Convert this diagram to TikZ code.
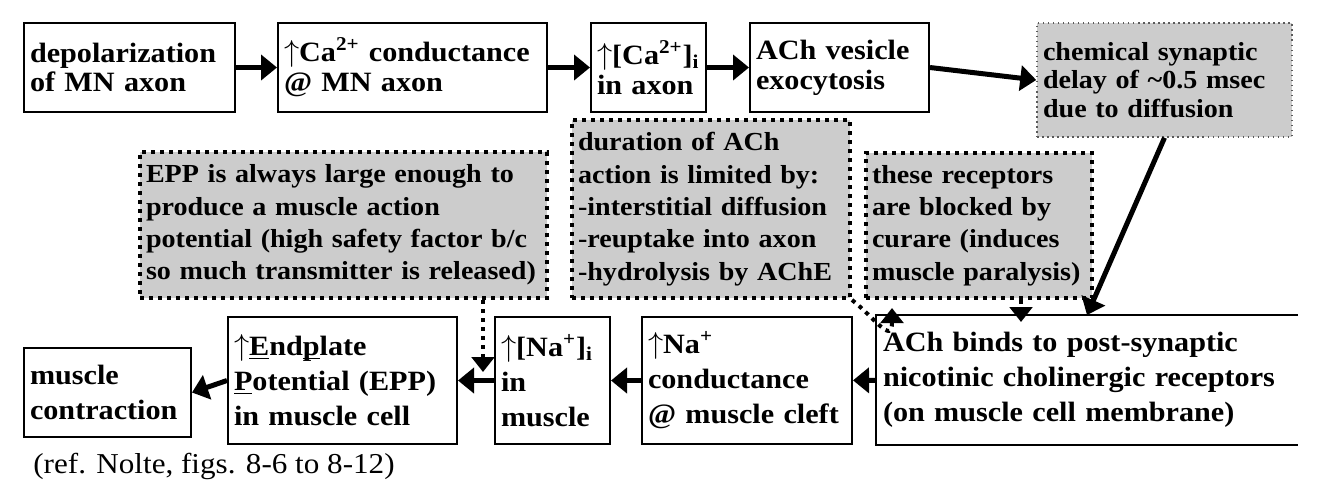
\documentclass[tikz,border=0pt]{standalone}
\usepackage{fontspec}
\setmainfont{Liberation Serif}[FakeStretch=1.08]
\usetikzlibrary{arrows.meta}
\definecolor{notegray}{RGB}{204,204,204}
\definecolor{delayline}{RGB}{90,90,90}

\begin{document}
\begin{tikzpicture}[
  box/.style={draw, line width=0.04cm, fill=white, align=left, inner xsep=0.12cm, inner ysep=0pt, font=\bfseries\fontsize{15.9}{17}\selectfont},
  lowbox/.style={box, font=\bfseries\fontsize{15.9}{19.9}\selectfont},
  note/.style={box, fill=notegray, line width=0.08cm, dash pattern=on 0.08cm off 0.1cm, font=\bfseries\fontsize{14.8}{18.4}\selectfont},
  delaynote/.style={box, fill=notegray, draw=delayline, line width=0.03cm, dotted, font=\bfseries\fontsize{14.8}{16.2}\selectfont},
  arrow/.style={-{Triangle[length=0.32cm,width=0.5cm]}, line width=0.1cm},
  notearrow/.style={-{Triangle[length=0.3cm,width=0.45cm]}, line width=0.08cm, dash pattern=on 0.08cm off 0.1cm}
]
\useasboundingbox (0,0) rectangle (26.68,-9.98);
\node[box, text width=3.98cm, minimum height=1.78cm] (depol) at (2.59,-1.35) {depolarization\\of MN axon};
\node[box, text width=5.14cm, minimum height=1.78cm] (cacond) at (8.25,-1.35) {$\uparrow$Ca\textsuperscript{2+} conductance\\@ MN axon};
\node[box, text width=2.06cm, minimum height=1.78cm] (cain) at (12.97,-1.35) {$\uparrow$[Ca\textsuperscript{2+}]\textsubscript{i}\\in axon};
\node[box, text width=3.34cm, minimum height=1.78cm] (vesicle) at (16.79,-1.35) {ACh vesicle\\exocytosis};
\node[delaynote, text width=4.86cm, minimum height=2.28cm] (delay) at (23.29,-1.60) {chemical synaptic\\delay of \textasciitilde0.5 msec\\due to diffusion};
\node[note, text width=7.90cm, minimum height=2.92cm] (eppnote) at (6.87,-4.50) {EPP is always large enough to\\produce a muscle action\\potential (high safety factor b/c\\so much transmitter is released)};
\node[note, text width=5.32cm, minimum height=3.56cm] (duration) at (14.22,-4.18) {duration of ACh\\action is limited by:\\-interstitial diffusion\\-reuptake into axon\\-hydrolysis by AChE};
\node[note, text width=4.28cm, minimum height=2.90cm] (receptors) at (19.58,-4.51) {these receptors\\are blocked by\\curare (induces\\muscle paralysis)};
\node[lowbox, text width=3.10cm, minimum height=1.78cm] (contraction) at (2.15,-7.85) {muscle\\contraction};
\node[lowbox, text width=4.34cm, minimum height=2.54cm] (endplate) at (6.85,-7.61) {$\uparrow$\underline{\smash{E}}nd\underline{\smash{p}}late\\\underline{\smash{P}}otential (EPP)\\in muscle cell};
\node[lowbox, text width=2.06cm, minimum height=2.54cm] (nain) at (11.05,-7.61) {$\uparrow$[Na\textsuperscript{+}]\textsubscript{i}\\in\\muscle};
\node[lowbox, text width=3.96cm, minimum height=2.54cm] (nacond) at (14.94,-7.61) {$\uparrow$Na\textsuperscript{+}\\conductance\\@ muscle cleft};
\node[lowbox, draw=none, text width=8.16cm, minimum height=2.56cm] (achbind) at (21.74,-7.60) {ACh binds to post-synaptic\\nicotinic cholinergic receptors\\(on muscle cell membrane)};
\draw[line width=0.04cm] (achbind.north east) -- (achbind.north west) -- (achbind.south west) -- (achbind.south east);
\node[anchor=base west, inner sep=0pt, font=\fontsize{16.4}{18}\selectfont] (nolte) at (0.66,-9.46) {(ref. Nolte, figs. 8-6 to 8-12)};
\coordinate (eppdrop) at (9.66,-7.44);
\coordinate (durtip) at (17.84,-6.16);
\coordinate (rcptip) at (20.42,-6.44);
\draw[arrow] (depol) -- (cacond);
\draw[arrow] (cacond) -- (cain);
\draw[arrow] (cain) -- (vesicle);
\draw[arrow] (vesicle.east) -- (delay.west);
\draw[arrow] (delay.south) -- (achbind.north);
\draw[arrow] (achbind) -- (nacond);
\draw[arrow] (nacond) -- (nain);
\draw[arrow] (nain) -- (endplate);
\draw[arrow] (endplate.west) -- (contraction.east);
\draw[notearrow] (eppnote.south -| eppdrop) -- (eppdrop);
\draw[notearrow] (duration.south east) .. controls (17.5,-6.36) and (17.84,-6.9) .. (durtip);
\draw[notearrow] (receptors.south -| rcptip) -- (rcptip);
\end{tikzpicture}
\end{document}
